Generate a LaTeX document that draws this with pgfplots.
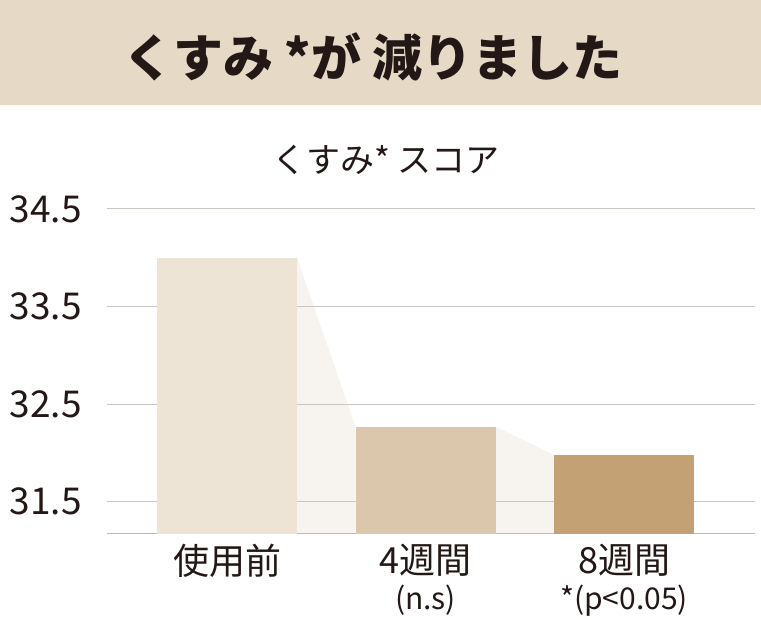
\documentclass[border=0pt]{standalone}
\usepackage{pgfplots}
\pgfplotsset{compat=1.18}
\usepackage{fontspec}
\setmainfont{Noto Sans CJK JP}

\definecolor{ink}{HTML}{231815}
\definecolor{headbg}{HTML}{E6DAC7}
\definecolor{barA}{HTML}{EDE4D6}
\definecolor{barB}{HTML}{DBC7AB}
\definecolor{barC}{HTML}{C4A175}
\definecolor{link}{HTML}{F7F4EF}
\definecolor{gridgray}{HTML}{C9C6C2}
\definecolor{axisgray}{HTML}{BDBBB8}

\pgfplotsset{
  kusumi/.style={
    at={(107pt,86pt)}, anchor=south west,
    scale only axis, width=648pt, height=325pt,
    xmin=-0.605, xmax=2.66, ymin=31.17, ymax=34.5,
  }
}

\begin{document}
\begin{tikzpicture}
\path[use as bounding box] (0pt,0pt) rectangle (761pt,620pt);
\fill[headbg] (0pt,515pt) rectangle (761pt,620pt);
\node[text=ink, font=\fontsize{50}{60}\selectfont\bfseries] at (373pt,563pt) {くすみ *が 減りました};
\node[text=ink, font=\fontsize{34}{40}\selectfont] at (386pt,460pt) {くすみ* スコア};

% connecting shapes between the bars (under the grid)
\begin{axis}[kusumi, hide axis]
\addplot[fill=link, draw=none] coordinates {(0.3527,34.0) (0.6473,32.27) (0.6473,31.17) (0.3527,31.17)};
\addplot[fill=link, draw=none] coordinates {(1.3527,32.27) (1.6473,31.98) (1.6473,31.17) (1.3527,31.17)};
\end{axis}

\begin{axis}[kusumi,
  axis x line*=bottom, axis y line*=left,
  x axis line style={draw=axisgray, line width=1pt, -},
  y axis line style={draw=none},
  major tick length=0pt,
  ymajorgrids, grid style={gridgray, line width=1pt},
  ytick={31.5,32.5,33.5,34.5},
  yticklabel style={anchor=east, inner sep=0pt, xshift=-25pt, text=ink,
    font=\fontsize{37}{40}\selectfont,
    /pgf/number format/.cd, fixed, fixed zerofill, precision=1, assume math mode=true},
  xtick={0,1,2},
  xticklabels={使用前, {4週間\\[-4pt]{\fontsize{30}{34}\selectfont (n.s)}}, {8週間\\[-4pt]{\fontsize{30}{34}\selectfont *(p<0.05)}}},
  xticklabel style={anchor=north, inner sep=0pt, yshift=-10pt, align=center, text=ink,
    font=\fontsize{36}{40}\selectfont},
  ybar, bar width=140pt, bar shift=0pt,
]
\addplot[fill=barA, draw=none] coordinates {(0,34.0)};
\addplot[fill=barB, draw=none] coordinates {(1,32.27)};
\addplot[fill=barC, draw=none] coordinates {(2,31.98)};
\end{axis}
\end{tikzpicture}
\end{document}
